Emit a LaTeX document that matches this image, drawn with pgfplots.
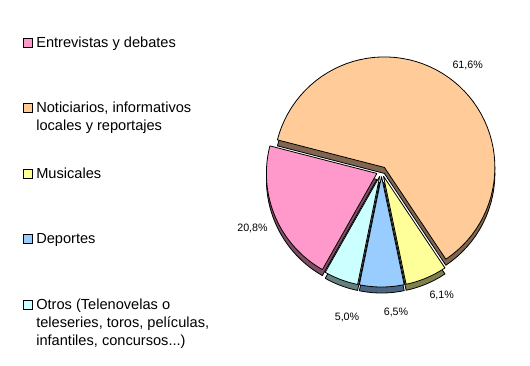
\documentclass[border=0pt]{standalone}
\usepackage{pgfplots}
\usepackage{pgfplotstable}
\pgfplotsset{compat=1.18}
\usepackage{fontspec}
\setmainfont{Liberation Sans}

\definecolor{cNot}{HTML}{FFCC99}\definecolor{sNot}{HTML}{806650}
\definecolor{cEnt}{HTML}{FF99CC}\definecolor{sEnt}{HTML}{804D66}
\definecolor{cOtr}{HTML}{CCFFFF}\definecolor{sOtr}{HTML}{668080}
\definecolor{cDep}{HTML}{99CCFF}\definecolor{sDep}{HTML}{4D6680}
\definecolor{cMus}{HTML}{FFFF99}\definecolor{sMus}{HTML}{80804D}

\pgfplotstableread{
name value
Noticiarios 61.6
Entrevistas 20.8
Otros 5.0
Deportes 6.5
Musicales 6.1
}\piedata

% geometry (1 axis unit = 1 px)
\def\cx{381.5}\def\cy{193.5}\def\R{110.5}\def\ex{5}\def\dd{6}
\pgfplotstablegetelem{0}{value}\of\piedata\let\vA\pgfplotsretval
\pgfplotstablegetelem{1}{value}\of\piedata\let\vB\pgfplotsretval
\pgfplotstablegetelem{2}{value}\of\piedata\let\vC\pgfplotsretval
\pgfplotstablegetelem{3}{value}\of\piedata\let\vD\pgfplotsretval
\pgfplotstablegetelem{4}{value}\of\piedata\let\vE\pgfplotsretval
\pgfmathsetmacro\aA{-56.2}
\pgfmathsetmacro\aB{\aA+3.6*\vA}
\pgfmathsetmacro\aC{\aB+3.6*\vB}
\pgfmathsetmacro\aD{\aC+3.6*\vC}
\pgfmathsetmacro\aE{\aD+3.6*\vD}
\pgfmathsetmacro\aF{\aE+3.6*\vE}
\newcommand\prep[3]{%
  \pgfmathsetmacro\tmpm{((#2)+(#3))/2}%
  \expandafter\pgfmathsetmacro\csname ox#1\endcsname{\cx+\ex*cos(\tmpm)}%
  \expandafter\pgfmathsetmacro\csname oy#1\endcsname{\cy+\ex*sin(\tmpm)}%
}
\prep{A}{\aA}{\aB}
\prep{B}{\aB}{\aC}
\prep{C}{\aC}{\aD}
\prep{D}{\aD}{\aE}
\prep{E}{\aE}{\aF}

\newcommand\pieslice[5]{%
  \addplot[forget plot, fill=#5, draw=black, line width=0.8bp, line join=round,
    variable=\s, samples at={0,...,62}]
   ({#3+ifthenelse(or(\s<0.5,\s>61.5),0,\R)*cos((#1)+((#2)-(#1))*(\s-1)/60)},
    {#4+ifthenelse(or(\s<0.5,\s>61.5),0,\R)*sin((#1)+((#2)-(#1))*(\s-1)/60)});
}
\newcommand\entry[1]{\parbox[t][65.5bp][t]{220bp}{\fontsize{14.6bp}{18bp}\selectfont\raggedright\strut #1}}
\newcommand\labfont{\fontsize{10.7bp}{12bp}\selectfont}

\begin{document}
\begin{tikzpicture}
\begin{axis}[
  width=530bp, height=365bp, scale only axis,
  xmin=0, xmax=530, ymin=0, ymax=365,
  axis lines=none, clip=false,
  legend style={at={(0.043,0.906)}, anchor=north west, draw=none, fill=none,
    inner sep=0pt, row sep=0pt, column sep=3.5bp,
    cells={anchor=base west}, nodes={inner sep=0pt, text depth={}}},
  legend image code/.code={\draw[#1, draw=black, line width=0.8bp] (0bp,0bp) rectangle (9bp,9bp);},
]
\path (rel axis cs:0,0) rectangle (rel axis cs:1,1);
% side (depth) faces
\pieslice{\aA}{\aB}{\oxA}{\oyA-\dd}{sNot}
\pieslice{\aB}{\aC}{\oxB}{\oyB-\dd}{sEnt}
\pieslice{\aC}{\aD}{\oxC}{\oyC-\dd}{sOtr}
\pieslice{\aD}{\aE}{\oxD}{\oyD-\dd}{sDep}
\pieslice{\aE}{\aF}{\oxE}{\oyE-\dd}{sMus}
% top faces
\pieslice{\aA}{\aB}{\oxA}{\oyA}{cNot}
\pieslice{\aB}{\aC}{\oxB}{\oyB}{cEnt}
\pieslice{\aC}{\aD}{\oxC}{\oyC}{cOtr}
\pieslice{\aD}{\aE}{\oxD}{\oyD}{cDep}
\pieslice{\aE}{\aF}{\oxE}{\oyE}{cMus}

\node[font=\labfont] at (axis cs:467.7,300) {61,6\%};
\node[font=\labfont] at (axis cs:252.5,137) {20,8\%};
\node[font=\labfont] at (axis cs:347,48) {5,0\%};
\node[font=\labfont] at (axis cs:396,53) {6,5\%};
\node[font=\labfont] at (axis cs:441.7,69.3) {6,1\%};

\addlegendimage{fill=cEnt}
\addlegendentry{\entry{Entrevistas y debates}}
\addlegendimage{fill=cNot}
\addlegendentry{\entry{Noticiarios, informativos\\locales y reportajes}}
\addlegendimage{fill=cMus}
\addlegendentry{\entry{Musicales}}
\addlegendimage{fill=cDep}
\addlegendentry{\entry{Deportes}}
\addlegendimage{fill=cOtr}
\addlegendentry{\entry{Otros (Telenovelas o\\teleseries, toros, películas,\\infantiles, concursos...)}}
\end{axis}
\end{tikzpicture}
\end{document}
